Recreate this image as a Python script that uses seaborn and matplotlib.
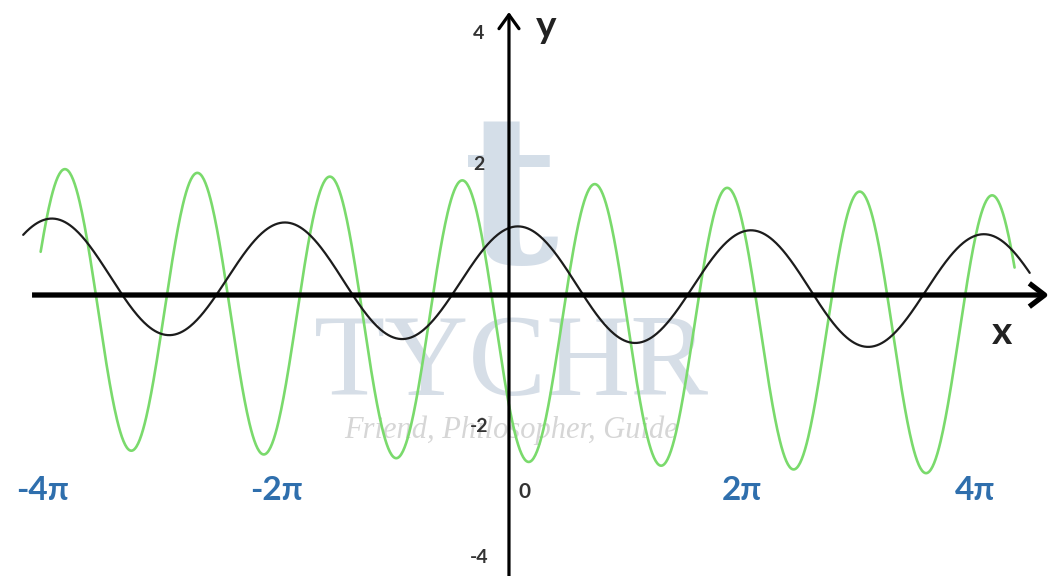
import numpy as np
import pandas as pd
import matplotlib
matplotlib.use("Agg")
import matplotlib.pyplot as plt
import matplotlib.transforms as mtransforms
import seaborn as sns

PI = np.pi

# Curve parameters (x in radians)
black_amp = 0.875
black_mid = 0.175
black_tilt = -0.0095        # slow downward drift of the drawn curve
black_freq = 1.0
black_peak_at = 0.08 * PI
black_span = (-4.17 * PI, 4.47 * PI)

green_amp = 2.135
green_mid = -0.405
green_tilt = -0.016
green_freq = 1.759
green_peak_at = -0.40 * PI
green_span = (-4.02 * PI, 4.34 * PI)

# Axis labels
x_tick_values = [-4 * PI, -2 * PI, 2 * PI, 4 * PI]
x_tick_labels = ["-4π", "-2π", "2π", "4π"]
y_tick_values = [4, 2, -2, -4]
y_tick_labels = ["4", "2", "-2", "-4"]

sns.set_theme(style="white")
plt.rcParams["font.family"] = ["Lato", "DejaVu Sans"]


def wave(amp, mid, tilt, freq, peak_at, span, n=1200):
    x = np.linspace(span[0], span[1], n)
    y = amp * np.cos(freq * (x - peak_at)) + mid + tilt * x
    return pd.DataFrame({"x": x, "y": y})


black = wave(black_amp, black_mid, black_tilt, black_freq, black_peak_at, black_span)
green = wave(green_amp, green_mid, green_tilt, green_freq, green_peak_at, green_span)

fig = plt.figure(figsize=(10.55, 5.76), dpi=100)
ax = fig.add_axes([0, 0, 1, 1])
ax.set_xlim(-4.369 * PI, 4.687 * PI)
ax.set_ylim(-4.29, 4.504)
ax.axis("off")

# Faint watermark
ax.text(0.06, 1.36, "t", ha="center", va="center",
        fontsize=150, fontweight="bold", family="DejaVu Serif",
        color="#c3d0df", alpha=0.7, zorder=0)
ax.text(0.06, -1.1, "TYCHR", ha="center", va="center", fontsize=84,
        family="Liberation Serif", color="#c9d3df", alpha=0.75, zorder=0)
ax.text(0.06, -2.07, "Friend, Philosopher, Guide", ha="center", va="center",
        fontsize=22, family="Liberation Serif", style="italic",
        color="#d6d6d6", zorder=0)

# Curves
sns.lineplot(data=green, x="x", y="y", ax=ax, color="#7ada6c", lw=1.9,
             sort=False, zorder=3)
sns.lineplot(data=black, x="x", y="y", ax=ax, color="#1c1c1c", lw=1.6,
             sort=False, zorder=4)

# Coordinate axes with arrow heads
ax.annotate("", xy=(4.635 * PI, 0), xytext=(-4.094 * PI, 0),
            arrowprops=dict(arrowstyle="->,head_length=0.55,head_width=0.42",
                            lw=3.8, color="black", shrinkA=0, shrinkB=0,
                            mutation_scale=20, capstyle="butt"),
            zorder=5)
ax.annotate("", xy=(0, 4.32), xytext=(0, -4.29),
            arrowprops=dict(arrowstyle="->,head_length=0.5,head_width=0.36",
                            lw=2.3, color="black", shrinkA=0, shrinkB=0,
                            mutation_scale=20),
            zorder=5)

# Labels
for v, lab in zip(x_tick_values, x_tick_labels):
    ax.text(v, -2.98, lab, ha="center", va="center", fontsize=24,
            fontweight="bold", color="#2f6fad", zorder=6)

left_of_axis = mtransforms.offset_copy(ax.transData, fig=fig, x=-30, y=0, units="dots")
for v, lab in zip(y_tick_values, y_tick_labels):
    ax.text(0, v, lab, transform=left_of_axis, ha="center", va="center",
            fontsize=14, fontweight="bold", color="#333333", zorder=6)

right_of_axis = mtransforms.offset_copy(ax.transData, fig=fig, x=16, y=0, units="dots")
ax.text(0, -3.0, "0", transform=right_of_axis, ha="center", va="center",
        fontsize=15, fontweight="bold", color="#333333", zorder=6)

y_name = mtransforms.offset_copy(ax.transData, fig=fig, x=37, y=0, units="dots")
ax.text(0, 4.1, "y", transform=y_name, ha="center", va="center",
        fontsize=28, fontweight="bold", color="#222222", zorder=6)
ax.text(4.23 * PI, -0.58, "x", ha="center", va="center",
        fontsize=28, fontweight="bold", color="#222222", zorder=6)

fig.savefig("out.png", dpi=100, facecolor="white")
